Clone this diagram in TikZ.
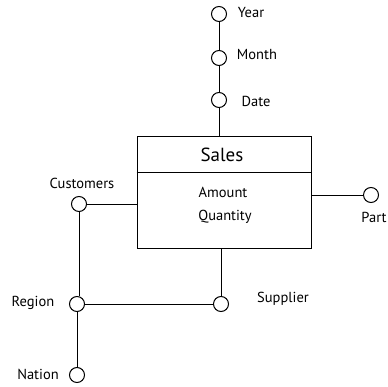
\documentclass[tikz,border=0pt]{standalone}
\usepackage{fontspec}
\setmainfont{PT Sans}
\usetikzlibrary{positioning}

\tikzset{
  attr/.style={draw, circle, line width=1pt, fill=white, minimum size=15pt, inner sep=0pt},
  lbl/.style={inner sep=0pt, font=\fontsize{14.5}{16}\selectfont},
  link/.style={line width=1pt}
}

\begin{document}
\begin{tikzpicture}[x=1pt, y=-1pt]

\useasboundingbox (0,0) rectangle (387,387);

% Draw the fact table
\node[draw, line width=0.9pt, minimum width=174pt, minimum height=112pt, inner sep=0pt] (sales) at (224,192) {};
\draw[line width=0.9pt] (sales.west |- 0,172) -- (sales.east |- 0,172);
\node[lbl, font=\fontsize{19}{21}\selectfont] (salesname) at (222,155) {Sales};
\node[lbl] (amount) at (223,192) {Amount};
\node[lbl] (quantity) at (225,217) {Quantity};

% Draw the dimension levels (circles)
\node[attr] (year) at (219,14) {};
\node[attr] (month) at (219,58) {};
\node[attr] (date) at (219,100) {};
\node[attr] (part) at (371,195) {};
\node[attr] (customers) at (79,204) {};
\node[attr] (region) at (77,304) {};
\node[attr] (nation) at (77,375) {};
\node[attr] (supplier) at (221,304) {};

% Labels
\node[lbl] (yearname) at (251,13) {Year};
\node[lbl] (monthname) at (257,55) {Month};
\node[lbl] (datename) at (256,101) {Date};
\node[lbl] (partname) at (374,217) {Part};
\node[lbl] (customersname) at (82,183) {Customers};
\node[lbl] (regionname) at (33,303) {Region};
\node[lbl] (nationname) at (38,374) {Nation};
\node[lbl] (suppliername) at (283,299) {Supplier};

% Draw the links
\draw[link] (year) -- (month);
\draw[link] (month) -- (date);
\draw[link] (date) -- (date |- sales.north);
\draw[link] (part) -- (sales.east |- part);
\draw[link] (customers) -- (sales.west |- customers);
\draw[link] (customers) -- (customers |- region.north);
\draw[link] (region) -- (nation);
\draw[link] (region) -- (supplier);
\draw[link] (supplier) -- (supplier |- sales.south);

\end{tikzpicture}
\end{document}
